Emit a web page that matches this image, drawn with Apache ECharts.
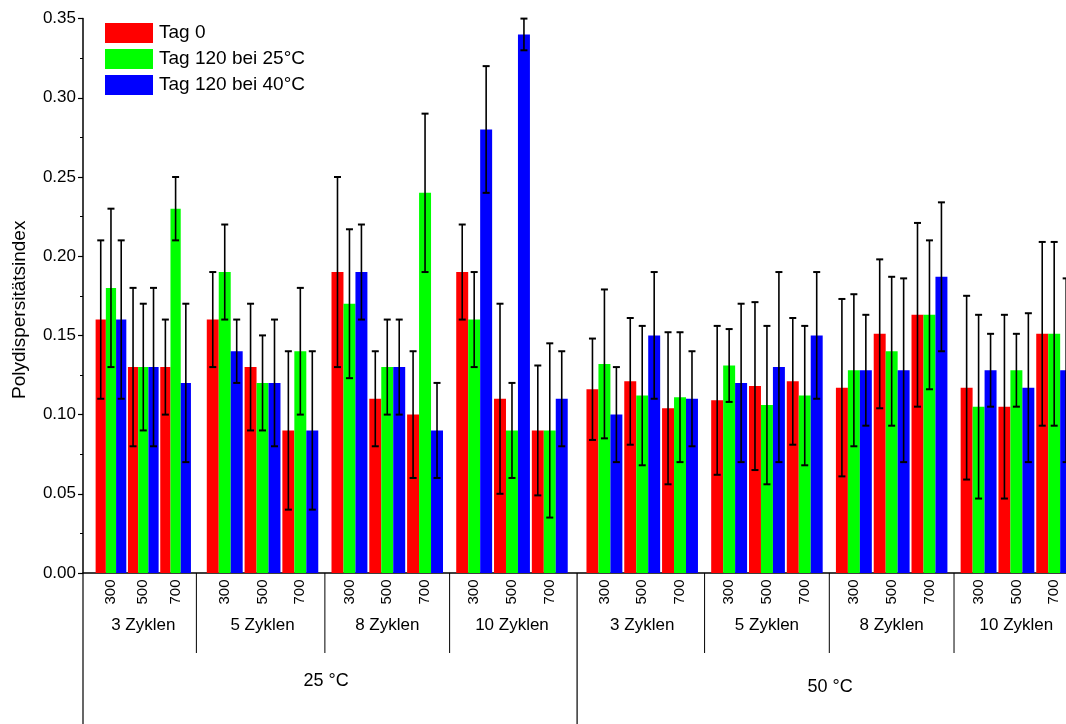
<!DOCTYPE html>
<html>
<head>
<meta charset="utf-8">
<script src="https://cdn.jsdelivr.net/npm/echarts@6/dist/echarts.min.js"></script>
<style>
  html, body { margin: 0; background: #fff; }
  #chart { width: 1066px; height: 724px; }
</style>
</head>
<body>
<div id="chart"></div>
<script>
// categories
const temps = ['25 °C', '50 °C'];
const cycles = ['3 Zyklen', '5 Zyklen', '8 Zyklen', '10 Zyklen'];
const sizes = ['300', '500', '700'];
const seriesNames = ['Tag 0', 'Tag 120 bei 25°C', 'Tag 120 bei 40°C'];

// values: 25 °C (3,5,8,10 Zyklen) then 50 °C (3,5,8,10 Zyklen), each 300/500/700
const tag0 = [0.16, 0.13, 0.13, 0.16, 0.13, 0.09, 0.19, 0.11, 0.10, 0.19, 0.11, 0.09,
              0.116, 0.121, 0.104, 0.109, 0.118, 0.121, 0.117, 0.151, 0.163, 0.117, 0.105, 0.151];
const tag0Err = [0.05, 0.05, 0.03, 0.03, 0.04, 0.05, 0.06, 0.03, 0.04, 0.03, 0.06, 0.041,
                 0.032, 0.040, 0.048, 0.047, 0.053, 0.040, 0.056, 0.047, 0.058, 0.058, 0.058, 0.058];
const tag25 = [0.18, 0.13, 0.23, 0.19, 0.12, 0.14, 0.17, 0.13, 0.24, 0.16, 0.09, 0.09,
               0.132, 0.112, 0.111, 0.131, 0.106, 0.112, 0.128, 0.140, 0.163, 0.105, 0.128, 0.151];
const tag25Err = [0.05, 0.04, 0.02, 0.03, 0.03, 0.04, 0.047, 0.03, 0.05, 0.03, 0.03, 0.055,
                  0.047, 0.044, 0.041, 0.023, 0.05, 0.044, 0.048, 0.047, 0.047, 0.058, 0.023, 0.058];
const tag40 = [0.16, 0.13, 0.12, 0.14, 0.12, 0.09, 0.19, 0.13, 0.09, 0.28, 0.34, 0.11,
               0.10, 0.150, 0.110, 0.120, 0.130, 0.150, 0.128, 0.128, 0.187, 0.128, 0.117, 0.128];
const tag40Err = [0.05, 0.05, 0.05, 0.02, 0.04, 0.05, 0.03, 0.03, 0.03, 0.04, 0.01, 0.03,
                  0.03, 0.04, 0.03, 0.05, 0.06, 0.04, 0.035, 0.058, 0.047, 0.023, 0.047, 0.058];

const colors = ['#ff0000', '#00ff00', '#0000ff'];
const font = '"Liberation Sans", Arial, sans-serif';

// first group is drawn a bit narrower, like in the original plot
const firstGroupScale = 0.855;

// slot position of category i on the x scale (groups separated by a small gap)
function slot(i) {
  const g = Math.floor(i / 3), j = i % 3;
  if (g === 0) return 2 - (2 - j) * firstGroupScale;
  return g * 3.3 + j + (g >= 4 ? 0.146 : 0);
}
const xMin = -0.45, xMax = 26.22;
function groupEdge(g) { // boundary right of group g
  return (slot(3 * g + 2) + slot(3 * g + 3)) / 2 - (g === 0 ? 0.1 : 0);
}

function barRender(k) {
  return function (params, api) {
    const x = api.value(0), v = api.value(1), e = api.value(2);
    const scale = params.dataIndex < 3 ? firstGroupScale : 1;
    const bw = api.size([1, 0])[0] * 0.95 * scale / 3;
    const base = api.coord([x, 0]);
    const top = api.coord([x, v]);
    const left = base[0] - 1.5 * bw + k * bw;
    const cx = left + bw / 2;
    const hi = api.coord([x, v + e])[1];
    const lo = api.coord([x, v - e])[1];
    const ls = { stroke: '#000', lineWidth: 1.6 };
    return {
      type: 'group',
      children: [
        { type: 'rect', shape: { x: left, y: top[1], width: bw, height: base[1] - top[1] }, style: { fill: colors[k] } },
        { type: 'line', shape: { x1: cx, y1: hi, x2: cx, y2: lo }, style: ls },
        { type: 'line', shape: { x1: cx - 3.5, y1: hi, x2: cx + 3.5, y2: hi }, style: { stroke: '#000', lineWidth: 2 } },
        { type: 'line', shape: { x1: cx - 3.5, y1: lo, x2: cx + 3.5, y2: lo }, style: { stroke: '#000', lineWidth: 2 } }
      ]
    };
  };
}

const valueSets = [[tag0, tag0Err], [tag25, tag25Err], [tag40, tag40Err]];
const barSeries = valueSets.map(function (vs, k) {
  return {
    name: seriesNames[k],
    type: 'custom',
    renderItem: barRender(k),
    itemStyle: { color: colors[k] },
    encode: { x: 0, y: 1 },
    data: vs[0].map(function (v, i) { return [slot(i), v, vs[1][i]]; }),
    z: 3
  };
});

// size labels under each category
const sizeSeries = {
  type: 'custom',
  silent: true,
  clip: false,
  encode: { x: 0, y: 1 },
  data: tag0.map(function (v, i) { return [slot(i), 0, i % 3]; }),
  renderItem: function (params, api) {
    const p = api.coord([api.value(0), 0]);
    return {
      type: 'text', x: p[0], y: p[1] + 19, rotation: Math.PI / 2,
      style: { text: sizes[api.value(2)], fontSize: 15, fontFamily: font, fill: '#000', align: 'center', verticalAlign: 'middle' }
    };
  }
};

// cycle labels and dividers
const cycleSeries = {
  type: 'custom',
  silent: true,
  clip: false,
  encode: { x: 0, y: 1 },
  data: [0, 1, 2, 3, 4, 5, 6, 7].map(function (g) { return [slot(3 * g + 1), 0, g]; }),
  renderItem: function (params, api) {
    const g = api.value(2);
    const p = api.coord([api.value(0), 0]);
    const children = [{
      type: 'text', x: p[0], y: p[1] + 52,
      style: { text: cycles[g % 4], fontSize: 17, fontFamily: font, fill: '#000', align: 'center', verticalAlign: 'middle' }
    }];
    if (g < 7 && g !== 3) {
      const ex = api.coord([groupEdge(g), 0])[0];
      children.push({ type: 'line', shape: { x1: ex, y1: p[1], x2: ex, y2: p[1] + 80 }, style: { stroke: '#000', lineWidth: 1 } });
    }
    return { type: 'group', children: children };
  }
};

// temperature labels and dividers
const tempEdges = [xMin, groupEdge(3), xMax];
const tempSeries = {
  type: 'custom',
  silent: true,
  clip: false,
  encode: { x: 0, y: 1 },
  data: [0, 1].map(function (t) { return [(tempEdges[t] + tempEdges[t + 1]) / 2, 0, t, tempEdges[t]]; }),
  renderItem: function (params, api) {
    const t = api.value(2);
    const p = api.coord([api.value(0), 0]);
    const ex = api.coord([api.value(3), 0])[0];
    return {
      type: 'group',
      children: [
        { type: 'line', shape: { x1: ex, y1: p[1], x2: ex, y2: p[1] + 160 }, style: { stroke: '#000', lineWidth: 1.2 } },
        {
          type: 'text', x: p[0] - 4, y: p[1] + 108 + t * 6,
          style: { text: temps[t], fontSize: 18, fontFamily: font, fill: '#000', align: 'center', verticalAlign: 'middle' }
        }
      ]
    };
  }
};

const chart = echarts.init(document.getElementById('chart'), null, { renderer: 'canvas' });

const option = {
  backgroundColor: '#fff',
  animation: false,
  textStyle: { fontFamily: font },
  legend: {
    data: seriesNames.map(function (n) { return { name: n, icon: 'rect' }; }),
    orient: 'vertical',
    left: 105,
    top: 23,
    padding: 0,
    itemWidth: 48,
    itemHeight: 20,
    itemGap: 6,
    textStyle: { fontSize: 19, color: '#000', fontFamily: font, padding: [0, 0, 0, 1] }
  },
  grid: { left: 83, top: 18.6, width: 1008, height: 554.4, containLabel: false, outerBoundsMode: 'none' },
  xAxis: {
    type: 'value',
    min: xMin,
    max: xMax,
    axisLine: { show: true, onZero: false, lineStyle: { color: '#000', width: 1.5 } },
    axisTick: { show: false },
    axisLabel: { show: false },
    splitLine: { show: false }
  },
  yAxis: {
    type: 'value',
    min: 0,
    max: 0.35,
    interval: 0.05,
    name: 'Polydispersitätsindex',
    nameLocation: 'middle',
    nameGap: 54,
    nameTextStyle: { fontSize: 19, color: '#000', fontFamily: font, padding: [0, 28, 0, 0] },
    axisLine: { show: true, onZero: false, lineStyle: { color: '#000', width: 1.5 } },
    axisTick: { show: true, inside: false, length: 5, lineStyle: { color: '#000', width: 1.2 } },
    minorTick: { show: true, splitNumber: 2, length: 3, lineStyle: { color: '#000', width: 1 } },
    splitLine: { show: false },
    axisLabel: {
      fontSize: 17, color: '#000', fontFamily: font, margin: 7,
      formatter: function (v) { return v.toFixed(2); }
    }
  },
  series: barSeries.concat([sizeSeries, cycleSeries, tempSeries])
};

chart.setOption(option);
window.addEventListener('resize', chart.resize);
</script>
</body>
</html>
